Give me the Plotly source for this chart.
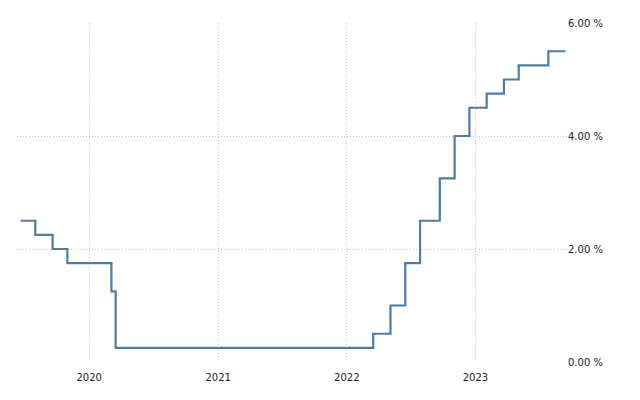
import plotly.graph_objects as go

# fed funds upper bound, change dates
fechas = ['2019-06-20', '2019-08-01', '2019-09-19', '2019-10-31', '2020-03-04',
          '2020-03-16', '2022-03-17', '2022-05-05', '2022-06-16', '2022-07-28',
          '2022-09-22', '2022-11-03', '2022-12-15', '2023-02-02', '2023-03-23',
          '2023-05-04', '2023-07-27', '2023-09-14']
tasa = [2.50, 2.25, 2.00, 1.75, 1.25,
        0.25, 0.50, 1.00, 1.75, 2.50,
        3.25, 4.00, 4.50, 4.75, 5.00,
        5.25, 5.50, 5.50]

y_ticks = [0, 2, 4, 6]
y_labels = ['0.00 %', '2.00 %', '4.00 %', '6.00 %']
x_ticks = ['2020-01-01', '2021-01-01', '2022-01-01', '2023-01-01']
x_labels = ['2020', '2021', '2022', '2023']

fig = go.Figure()
fig.add_trace(go.Scatter(x=fechas, y=tasa, mode='lines', line_shape='hv',
                         line=dict(color='#4b7ca8', width=2.2), showlegend=False))

fig.update_xaxes(range=['2019-06-10', '2023-09-18'], tickvals=x_ticks, ticktext=x_labels,
                 showgrid=True, gridcolor='#c4c4c4', griddash='1px,2px', gridwidth=1,
                 zeroline=False, showline=False, ticks='', ticklen=0, ticklabelstandoff=8)
fig.update_yaxes(range=[0, 6], side='right', tickvals=y_ticks, ticktext=y_labels,
                 showgrid=True, gridcolor='#c4c4c4', griddash='1px,2px', gridwidth=1,
                 zeroline=False, showline=False, ticks='', ticklen=0)
# el body del html tiene 8px de margen
fig.update_layout(width=640, height=400, plot_bgcolor='white', paper_bgcolor='white',
                  margin=dict(l=9, r=81, t=12, b=46),
                  font=dict(family='DejaVu Sans', size=10, color='#222222'))
fig.write_html('out.html')
